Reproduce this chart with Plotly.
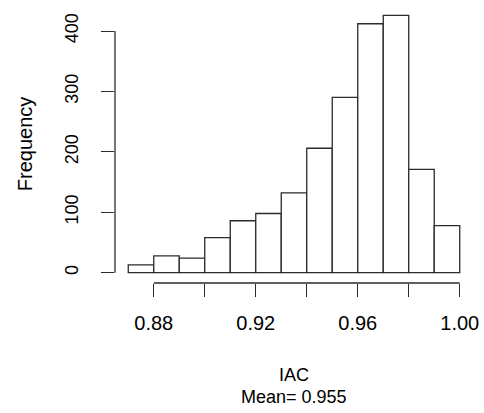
import plotly.graph_objects as go

bin_left = [0.87, 0.88, 0.89, 0.90, 0.91, 0.92, 0.93, 0.94, 0.95, 0.96, 0.97, 0.98, 0.99]
counts = [13, 28, 24, 58, 86, 98, 132, 206, 290, 412, 426, 171, 78]
bin_width = 0.01
x_tickvals = [0.88, 0.90, 0.92, 0.94, 0.96, 0.98, 1.00]
x_ticktext = ["0.88", "", "0.92", "", "0.96", "", "1.00"]
y_tickvals = [0, 100, 200, 300, 400]
x_label = "IAC"
sub_label = "Mean= 0.955"
y_label = "Frequency"

centers = [b + bin_width / 2 for b in bin_left]
LC = "#2b2b2b"
FONT = "Liberation Sans, Arial, Helvetica, sans-serif"

fig = go.Figure(go.Bar(
    x=centers, y=counts, width=[bin_width] * len(counts),
    marker=dict(color="white", line=dict(color=LC, width=1.3)),
    hoverinfo="skip",
))

xr0 = bin_left[0] - 0.04 * (bin_left[-1] + bin_width - bin_left[0])
xr1 = bin_left[-1] + bin_width + 0.04 * (bin_left[-1] + bin_width - bin_left[0])
yr1 = max(counts) * 1.04
yr0 = -max(counts) * 0.04

fig.update_layout(
    width=484, height=413,
    margin=dict(l=115, r=11, t=5, b=130),
    paper_bgcolor="white", plot_bgcolor="white",
    showlegend=False,
    font=dict(family=FONT, color="black"),
    xaxis=dict(range=[xr0, xr1], showgrid=False, zeroline=False, showline=False,
               tickmode="array", tickvals=x_tickvals, ticktext=x_ticktext,
               ticks="outside", ticklen=13, tickwidth=1.3, tickcolor=LC,
               tickfont=dict(size=20, family=FONT, color="black"),
               ticklabelstandoff=9),
    yaxis=dict(range=[yr0, yr1], showgrid=False, zeroline=False, showline=False,
               tickmode="array", tickvals=y_tickvals,
               ticks="outside", ticklen=13, tickwidth=1.3, tickcolor=LC,
               tickangle=-90,
               tickfont=dict(size=18, family=FONT, color="black"),
               ticklabelstandoff=16),
)

# R-style axis lines spanning only the tick range
fig.add_shape(type="line", xref="x", yref="paper",
              x0=x_tickvals[0], x1=x_tickvals[-1], y0=0, y1=0,
              line=dict(color=LC, width=1.3))
fig.add_shape(type="line", xref="paper", yref="y",
              x0=0, x1=0, y0=y_tickvals[0], y1=y_tickvals[-1],
              line=dict(color=LC, width=1.3))

fig.add_annotation(text=x_label, xref="paper", yref="paper", x=0.5, y=-0.332,
                   showarrow=False, yanchor="middle",
                   font=dict(size=18, family=FONT, color="black"))
fig.add_annotation(text=sub_label, xref="paper", yref="paper", x=0.5, y=-0.410,
                   showarrow=False, yanchor="middle",
                   font=dict(size=18, family=FONT, color="black"))
fig.add_annotation(text=y_label, xref="paper", yref="paper", x=-0.251, y=0.5,
                   showarrow=False, textangle=-90, xanchor="center", yanchor="middle",
                   font=dict(size=20, family=FONT, color="black"))

fig.write_html("out.html")
